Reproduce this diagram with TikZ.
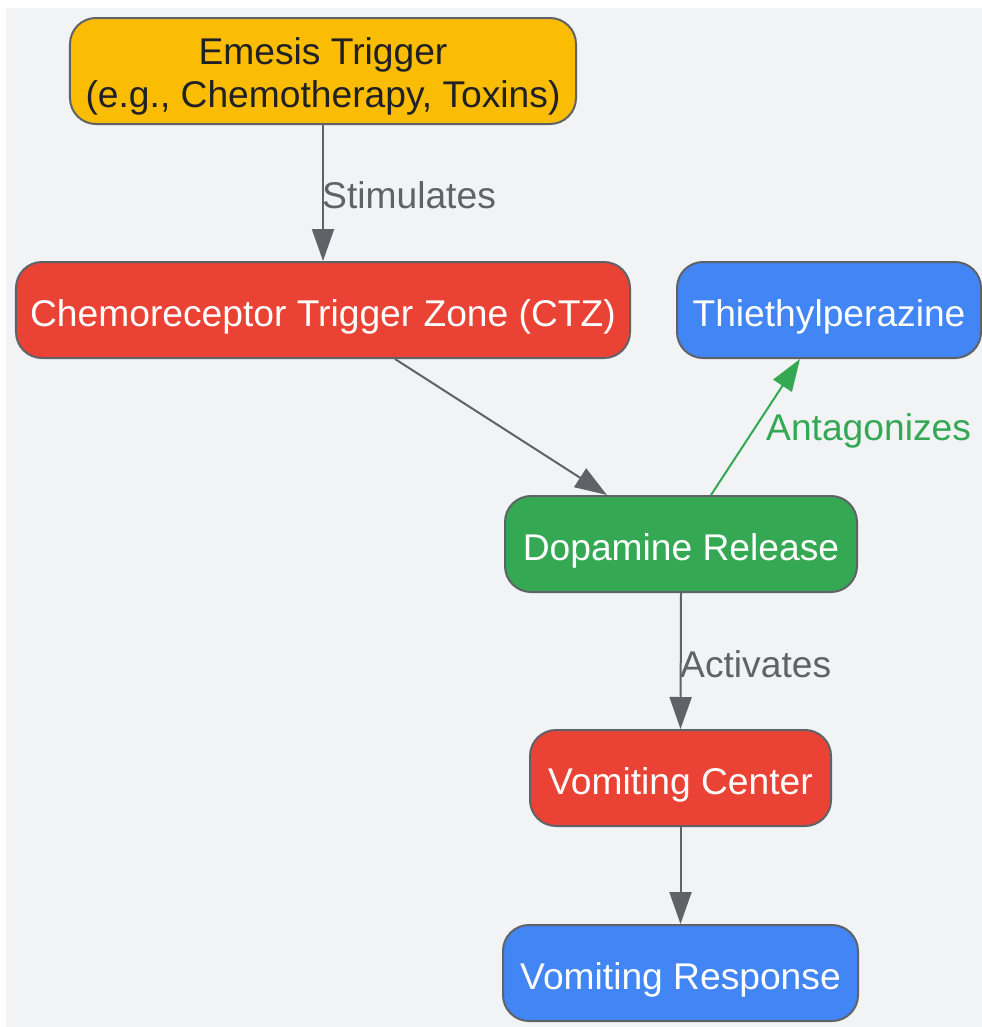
\documentclass[tikz,border=0pt]{standalone}
\usepackage{fontspec}
\setmainfont{Liberation Sans}
\usetikzlibrary{arrows.meta}
\definecolor{bg}{HTML}{F1F3F4}
\definecolor{edge}{HTML}{5F6368}
\definecolor{gyellow}{HTML}{FBBC04}
\definecolor{gred}{HTML}{EA4335}
\definecolor{gblue}{HTML}{4285F4}
\definecolor{ggreen}{HTML}{34A853}
\definecolor{dtext}{HTML}{202124}
\newcommand{\lift}[1]{\raisebox{-6.5bp}[\height][\depth]{#1}}
\tikzset{
  box/.style={draw=edge, line width=2bp, rounded corners=26bp, align=center,
    inner sep=0pt, font=\fontsize{37.2bp}{43bp}\selectfont, text=white},
  conn/.style={draw=edge, line width=2bp, -{Triangle[length=32bp,width=22bp]}},
  lbl/.style={font=\fontsize{37.2bp}{43bp}\selectfont, text=edge, inner sep=0pt, anchor=west}
}
\begin{document}
\begin{tikzpicture}[x=1bp,y=-1bp]
\useasboundingbox (0,0) rectangle (982,1027);
\fill[white] (0,0) rectangle (982,1027);
\fill[bg] (6,8) rectangle (982,1027);
\node[box, fill=gyellow, text=dtext, minimum width=506bp, minimum height=106bp] (trig) at (323,71) {\lift{\begin{tabular}{@{}c@{}}Emesis Trigger\\(e.g., Chemotherapy, Toxins)\end{tabular}}};
\node[box, fill=gred, minimum width=614bp, minimum height=96bp] (ctz) at (323,310) {\lift{Chemoreceptor Trigger Zone (CTZ)}};
\node[box, fill=gblue, minimum width=304bp, minimum height=96bp] (thie) at (829,310) {\lift{Thiethylperazine}};
\node[box, fill=ggreen, minimum width=352bp, minimum height=96bp] (dop) at (681,544) {\lift{Dopamine Release}};
\node[box, fill=gred, minimum width=301bp, minimum height=96bp] (vc) at (680.5,778) {\lift{Vomiting Center}};
\node[box, fill=gblue, minimum width=355bp, minimum height=96bp] (vr) at (680.5,973) {\lift{Vomiting Response}};

\draw[conn] (trig.south) -- (ctz.north);
\node[lbl] (l1) at (322,195) {Stimulates};
\draw[conn] ([xshift=72bp]ctz.south) -- ([xshift=-74bp]dop.north);
\draw[conn, draw=ggreen, fill=ggreen] ([xshift=30bp]dop.north) -- ([xshift=-29bp]thie.south);
\node[lbl, text=ggreen] (l2) at (766,431) {Antagonizes};
\draw[conn] (dop.south) -- (vc.north);
\node[lbl] (l3) at (680,664) {Activates};
\draw[conn] (vc.south) -- (vr.north);
\end{tikzpicture}
\end{document}
